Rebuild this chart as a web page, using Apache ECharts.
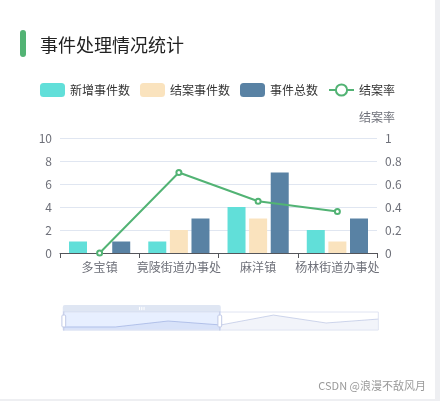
<!DOCTYPE html>
<html>
<head>
<meta charset="utf-8">
<script src="https://cdn.jsdelivr.net/npm/echarts@6/dist/echarts.min.js"></script>
<style>
  html, body { margin: 0; padding: 0; background: #eeeff2; }
  .card {
    position: relative;
    width: 435px;
    height: 399px;
    background: #fff;
    font-family: 'Noto Sans CJK SC', sans-serif;
  }
  .card .bar {
    position: absolute;
    left: 20px;
    top: 30px;
    width: 6px;
    height: 27px;
    border-radius: 3px;
    background: #52b374;
  }
  .card .title {
    position: absolute;
    left: 40px;
    top: 31px;
    font-size: 18px;
    line-height: 26px;
    color: #222;
  }
  .card .chart {
    position: absolute;
    left: 0;
    top: 0;
    width: 435px;
    height: 399px;
  }
  .card .mark {
    position: absolute;
    right: 9px;
    top: 377px;
    font-size: 11px;
    color: #9a9a9a;
  }
</style>
</head>
<body>
<div class="card">
  <div class="chart" id="chart"></div>
  <div class="bar"></div>
  <div class="title">事件处理情况统计</div>
  <div class="mark">CSDN @浪漫不敌风月</div>
</div>
<script>
// 区域
const areas = ['多宝镇', '竟陵街道办事处', '麻洋镇', '杨林街道办事处', '杨林尾镇', '张港镇', '岳口镇']
// 新增事件数
const addCount = [1, 1, 4, 2, 7, 3, 5]
// 结案事件数
const closeCount = [0, 2, 3, 1, 4, 2, 3]
// 事件总数
const totalCount = [1, 3, 7, 3, 8, 4, 6]
// 结案率
const closeRate = [0, 0.7, 0.45, 0.36, 0.5, 0.5, 0.5]

const colors = {
  cyan: '#61dfd9',
  beige: '#fae3be',
  blue: '#5982a4',
  green: '#52b374'
}

const option = {
  textStyle: { fontFamily: 'Noto Sans CJK SC' },
  legend: {
    top: 78,
    left: 'center',
    itemWidth: 25,
    itemHeight: 14,
    itemGap: 10,
    textStyle: { color: '#333', fontSize: 12 },
    data: ['新增事件数', '结案事件数', '事件总数', '结案率']
  },
  grid: {
    left: 60,
    right: 58,
    top: 138,
    bottom: 146
  },
  dataZoom: [
    {
      type: 'slider',
      start: 0,
      end: 50,
      left: 60,
      right: 59,
      top: 305,
      height: 19,
      showDetail: false,
      moveHandleStyle: { color: '#d2dbee', opacity: 0.7 }
    }
  ],
  xAxis: [
    {
      type: 'category',
      data: areas,
      axisLabel: { interval: 0, color: '#6e7079', fontSize: 12 },
      axisTick: { show: true }
    }
  ],
  yAxis: [
    {
      type: 'value',
      min: 0,
      max: 10,
      interval: 2,
      axisLabel: { color: '#6e7079' },
      splitLine: { lineStyle: { color: '#e0e6f1' } }
    },
    {
      type: 'value',
      name: '结案率',
      min: 0,
      max: 1,
      interval: 0.2,
      nameTextStyle: { color: '#6e7079', fontSize: 12 },
      axisLabel: { color: '#6e7079' },
      splitLine: { show: false }
    }
  ],
  series: [
    {
      name: '新增事件数',
      type: 'bar',
      barWidth: 18,
      barGap: '20%',
      itemStyle: { color: colors.cyan },
      data: addCount
    },
    {
      name: '结案事件数',
      type: 'bar',
      barWidth: 18,
      barGap: '20%',
      itemStyle: { color: colors.beige },
      data: closeCount
    },
    {
      name: '事件总数',
      type: 'bar',
      barWidth: 18,
      barGap: '20%',
      itemStyle: { color: colors.blue },
      data: totalCount
    },
    {
      name: '结案率',
      type: 'line',
      yAxisIndex: 1,
      symbol: 'emptyCircle',
      symbolSize: 5,
      itemStyle: { color: colors.green },
      lineStyle: { color: colors.green, width: 2 },
      data: closeRate
    }
  ]
}

const myChart = echarts.init(document.getElementById('chart'))
myChart.setOption(option)
</script>
</body>
</html>
